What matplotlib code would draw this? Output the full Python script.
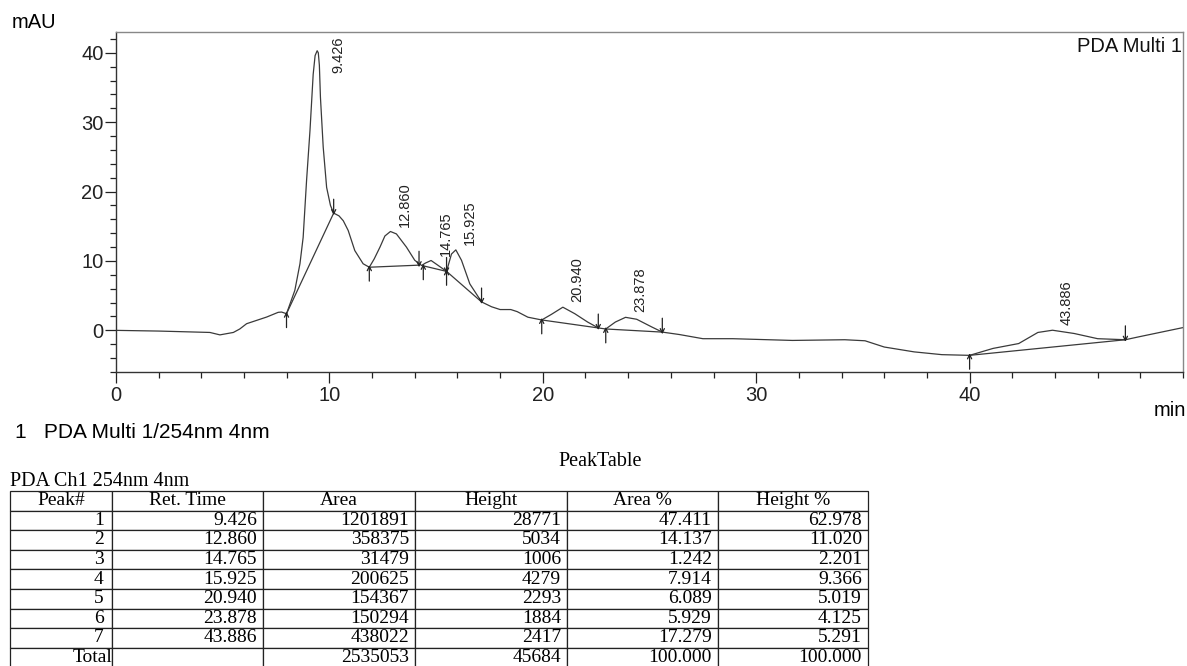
import numpy as np
import matplotlib
matplotlib.use('Agg')
import matplotlib.pyplot as plt
from matplotlib.ticker import MultipleLocator, FixedLocator

plt.rcParams['font.family'] = ['Liberation Sans', 'DejaVu Sans']

# chromatogram trace, time in min, signal in mAU
trace_t = [0.0, 2.0, 4.4, 4.87, 5.5, 5.8, 6.12, 7.06, 7.6, 7.76, 7.99, 8.38, 8.62, 8.77,
           8.93, 9.09, 9.24, 9.33, 9.426, 9.48, 9.53, 9.58, 9.71, 9.87, 10.05, 10.2, 10.45,
           10.65, 10.88, 11.19, 11.58, 11.87, 12.1, 12.37, 12.6, 12.86, 13.14, 13.61, 14.0,
           14.32, 14.5, 14.765, 15.1, 15.49, 15.72, 15.925, 16.19, 16.58, 17.13, 17.6,
           18.0, 18.5, 18.8, 19.3, 19.95, 20.4, 20.94, 21.5, 22.1, 22.6, 22.95, 23.4,
           23.878, 24.4, 25.1, 25.6, 26.4, 27.5, 28.9, 31.7, 34.15, 35.1, 36.0, 37.4,
           38.7, 40.0, 41.1, 42.3, 43.2, 43.886, 44.9, 46.0, 47.3, 47.9, 50.0]
trace_mau = [0.0, -0.1, -0.3, -0.65, -0.3, 0.2, 0.96, 1.92, 2.6, 2.64, 2.4, 5.76, 9.6, 13.4,
             21.6, 28.8, 36.9, 39.6, 40.3, 40.0, 38.2, 33.6, 26.4, 20.6, 18.0, 16.9, 16.5,
             15.8, 14.4, 11.5, 9.6, 9.1, 10.3, 12.0, 13.6, 14.25, 13.9, 12.0, 10.1,
             9.35, 9.7, 10.07, 9.35, 8.5, 11.0, 11.6, 10.1, 6.7, 4.1, 3.4,
             3.0, 3.0, 2.7, 1.9, 1.5, 2.3, 3.34, 2.4, 1.2, 0.35, 0.2, 1.2,
             1.88, 1.6, 0.5, -0.25, -0.6, -1.2, -1.2, -1.45, -1.35, -1.5, -2.4, -3.1,
             -3.5, -3.6, -2.6, -1.9, -0.3, 0.02, -0.45, -1.2, -1.35, -0.95, 0.4]

# integration baselines: start (t, mAU) -> end (t, mAU)
base_t0 = [7.99, 11.87, 14.4, 15.49, 19.95, 22.95, 40.0]
base_y0 = [2.4, 9.1, 9.3, 8.5, 1.5, 0.2, -3.6]
base_t1 = [10.2, 14.2, 15.49, 17.13, 22.6, 25.6, 47.3]
base_y1 = [16.9, 9.4, 8.5, 4.1, 0.35, -0.25, -1.35]

# peak table
peak_no = [1, 2, 3, 4, 5, 6, 7]
ret_time = [9.426, 12.860, 14.765, 15.925, 20.940, 23.878, 43.886]
area = [1201891, 358375, 31479, 200625, 154367, 150294, 438022]
height = [28771, 5034, 1006, 4279, 2293, 1884, 2417]
area_pct = [47.411, 14.137, 1.242, 7.914, 6.089, 5.929, 17.279]
height_pct = [62.978, 11.020, 2.201, 9.366, 5.019, 4.125, 5.291]

W, H = 1187, 666
fig = plt.figure(figsize=(W / 100, H / 100), dpi=100)
ax = fig.add_axes([116 / W, 1 - 372 / H, (1183 - 116) / W, (372 - 32) / H])

ax.plot(trace_t, trace_mau, color='#3a3a3a', lw=0.9)

arrow = dict(arrowstyle='->,head_length=0.3,head_width=0.15', lw=0.9,
             color='#222222', shrinkA=0, shrinkB=0)
for t0, y0, t1, y1 in zip(base_t0, base_y0, base_t1, base_y1):
    ax.plot([t0, t1], [y0, y1], color='#3a3a3a', lw=0.9)
    # start marker points up, end marker points down
    ax.annotate('', xy=(t0, y0 + 0.3), xytext=(t0, y0 - 2.0), arrowprops=arrow)
    ax.annotate('', xy=(t1, y1 - 0.3), xytext=(t1, y1 + 2.0), arrowprops=arrow)

# retention time labels above each apex
apex = dict(zip(trace_t, trace_mau))
for rt in ret_time:
    if apex[rt] + 7 > 43:
        ax.text(rt + 1.0, 42.4, '%.3f' % rt, rotation=90, ha='center', va='top',
                fontsize=10.5, color='#222222')
    else:
        ax.text(rt + 0.68, apex[rt] + 0.7, '%.3f' % rt, rotation=90, ha='center',
                va='bottom', fontsize=10.5, color='#222222')

ax.set_xlim(0, 50)
ax.set_ylim(-6, 43)
ax.xaxis.set_major_locator(FixedLocator([0, 10, 20, 30, 40]))
ax.xaxis.set_minor_locator(MultipleLocator(2))
ax.yaxis.set_major_locator(MultipleLocator(10))
ax.yaxis.set_minor_locator(MultipleLocator(2))
ax.tick_params(which='both', direction='out', labelsize=14.5, colors='#222222', width=0.9)
ax.tick_params(which='major', length=8)
ax.tick_params(which='minor', length=4.5)
ax.tick_params(axis='y', pad=1)
ax.tick_params(axis='x', pad=2)
for side in ['left', 'bottom']:
    ax.spines[side].set_color('#333333')
    ax.spines[side].set_linewidth(1.0)
for side in ['top', 'right']:
    ax.spines[side].set_color('#888888')
    ax.spines[side].set_linewidth(1.0)

ax.text(0.999, 0.985, 'PDA Multi 1', transform=ax.transAxes, ha='right', va='top',
        fontsize=14.5, color='#111111')
fig.text(12 / W, 1 - 22 / H, 'mAU', ha='left', va='center', fontsize=14.5)
fig.text(1186 / W, 1 - 410 / H, 'min', ha='right', va='center', fontsize=14.5)
fig.text(15 / W, 1 - 432 / H, '1   PDA Multi 1/254nm 4nm', ha='left', va='center',
         fontsize=15)

fig.text(600 / W, 1 - 461 / H, 'PeakTable', ha='center', va='center', fontsize=14.5,
         family='Liberation Serif')
fig.text(10 / W, 1 - 481 / H, 'PDA Ch1 254nm 4nm', ha='left', va='center', fontsize=14.5,
         family='Liberation Serif')

# peak table body
header = ['Peak#', 'Ret. Time', 'Area', 'Height', 'Area %', 'Height %']
rows = []
for i in range(len(peak_no)):
    rows.append([str(peak_no[i]), '%.3f' % ret_time[i], str(area[i]), str(height[i]),
                 '%.3f' % area_pct[i], '%.3f' % height_pct[i]])
rows.append(['Total', '', str(sum(area)), str(sum(height)),
             '%.3f' % 100, '%.3f' % 100])

col_w = [102, 151, 152, 152, 151, 150]
n_rows = len(rows) + 1
row_h = 19.6
tab_h = n_rows * row_h
tax = fig.add_axes([10 / W, (H - 491 - tab_h) / H, sum(col_w) / W, tab_h / H])
tax.axis('off')
tbl = tax.table(cellText=rows, colLabels=header, colWidths=[c / sum(col_w) for c in col_w],
                bbox=[0, 0, 1, 1], cellLoc='right')
tbl.auto_set_font_size(False)
for (r, c), cell in tbl.get_celld().items():
    cell.set_linewidth(0.9)
    cell.set_edgecolor('#222222')
    cell.PAD = 0.08 if c == 0 else 0.04
    cell.get_text().set_fontfamily('Liberation Serif')
    cell.get_text().set_fontsize(14)
    if r == 0:
        cell._loc = 'center'
        cell.get_text().set_ha('center')
    if r == n_rows - 1 and c == 0:
        cell.PAD = 0.0

fig.savefig('out.png', dpi=100)
